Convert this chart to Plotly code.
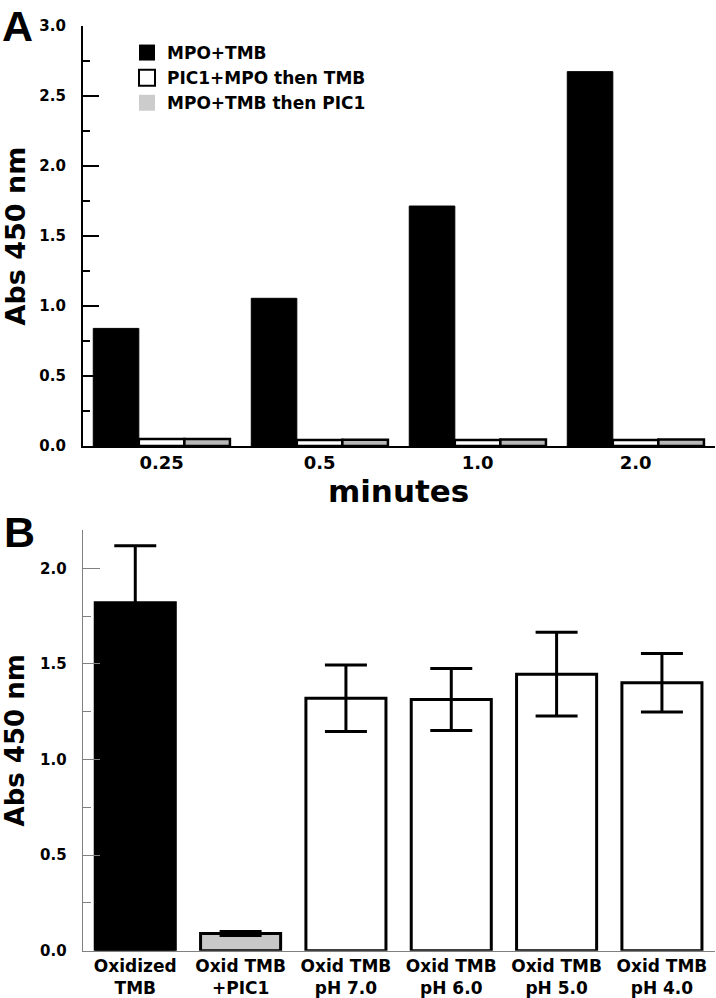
import plotly.graph_objects as go

# ---------------- data ----------------
# Panel A
minutes = ["0.25", "0.5", "1.0", "2.0"]
mpo_tmb = [0.84, 1.055, 1.714, 2.674]
pic1_mpo_then_tmb = [0.05, 0.042, 0.042, 0.042]
mpo_tmb_then_pic1 = [0.05, 0.045, 0.047, 0.047]
series_names = ["MPO+TMB", "PIC1+MPO then TMB", "MPO+TMB then PIC1"]

# Panel B
conditions = ["Oxidized<br>TMB", "Oxid TMB<br>+PIC1", "Oxid TMB<br>pH 7.0",
              "Oxid TMB<br>pH 6.0", "Oxid TMB<br>pH 5.0", "Oxid TMB<br>pH 4.0"]
abs_values = [1.82, 0.09, 1.32, 1.314, 1.446, 1.401]
abs_errors = [0.297, 0.01, 0.174, 0.162, 0.219, 0.153]
b_fill = ["black", "#c8c8c8", "white", "white", "white", "white"]

FONT = "DejaVu Sans"
BOLD = dict(family=FONT, color="black", weight="bold")

fig = go.Figure()

# ---------------- panel A bars ----------------
fig.add_trace(go.Bar(x=minutes, y=mpo_tmb, name=series_names[0],
                     marker=dict(color="black", line=dict(color="black", width=1)),
                     xaxis="x", yaxis="y", showlegend=False))
fig.add_trace(go.Bar(x=minutes, y=pic1_mpo_then_tmb, name=series_names[1],
                     marker=dict(color="white", line=dict(color="black", width=2.5)),
                     xaxis="x", yaxis="y", showlegend=False))
fig.add_trace(go.Bar(x=minutes, y=mpo_tmb_then_pic1, name=series_names[2],
                     marker=dict(color="#b8b8b8", line=dict(color="black", width=2.5)),
                     xaxis="x", yaxis="y", showlegend=False))

# legend entries
legend_styles = [
    dict(color="black", line=dict(color="black", width=0)),
    dict(color="white", line=dict(color="black", width=2)),
    dict(color="#cccccc", line=dict(color="#cccccc", width=0)),
]
for nm, st in zip(series_names, legend_styles):
    fig.add_trace(go.Scatter(x=[None], y=[None], mode="markers", name=nm,
                             marker=dict(symbol="square", size=16, **st),
                             xaxis="x", yaxis="y", showlegend=True))

# ---------------- panel B bars ----------------
fig.add_trace(go.Bar(x=conditions, y=abs_values, width=0.76,
                     marker=dict(color=b_fill, line=dict(color="black", width=3)),
                     error_y=dict(type="data", array=abs_errors, visible=True,
                                  color="black", thickness=3, width=21),
                     xaxis="x2", yaxis="y2", showlegend=False))

# ---------------- layout ----------------
H = 998.0
W = 716.0
xdom = [82.6 / W, 714.6 / W]

fig.update_layout(
    width=716, height=998,
    margin=dict(l=0, r=0, t=0, b=0),
    paper_bgcolor="white", plot_bgcolor="white",
    barmode="group", bargap=0.135, bargroupgap=0,
    font=dict(family=FONT, color="black"),
    legend=dict(x=127 / W, y=(H - 35) / H, xanchor="left", yanchor="top",
                font=dict(family=FONT, size=17, color="black", weight="bold"),
                bgcolor="rgba(0,0,0,0)", itemclick=False, tracegroupgap=0),
    xaxis=dict(domain=xdom, anchor="y", type="category", range=[-0.5, 3.5],
               showline=True, linecolor="black", linewidth=1.5, ticks="",
               showgrid=False, zeroline=False, automargin=False,
               tickfont=dict(size=18, **BOLD),
               title=dict(text="minutes", font=dict(size=31, **BOLD), standoff=0)),
    yaxis=dict(domain=[(H - 446) / H, (H - 26) / H], anchor="x", range=[0, 3],
               tick0=0, dtick=0.5, tickformat=".1f",
               ticks="inside", ticklen=17, tickwidth=1.5, tickcolor="black",
               minor=dict(ticks="inside", ticklen=8, tickwidth=1.5, tickcolor="black",
                          dtick=0.25, tick0=0, showgrid=False),
               showline=True, linecolor="black", linewidth=1.5,
               showgrid=False, zeroline=False, automargin=False,
               ticklabelstandoff=12,
               tickfont=dict(size=15, **BOLD),
               title=dict(text="Abs 450 nm", font=dict(size=27, **BOLD), standoff=14)),
    xaxis2=dict(domain=xdom, anchor="y2", type="category", range=[-0.5, 5.5],
                showline=True, linecolor="#808080", linewidth=1, ticks="",
                showgrid=False, zeroline=False, automargin=False,
                tickfont=dict(size=17, **BOLD)),
    yaxis2=dict(domain=[(H - 950.7) / H, (H - 530) / H], anchor="x2", range=[0, 2.2],
                tick0=0, dtick=0.5, tickformat=".1f",
                ticks="inside", ticklen=17, tickwidth=1, tickcolor="#808080",
                minor=dict(ticks="inside", ticklen=8, tickwidth=1, tickcolor="#808080",
                           dtick=0.25, tick0=0, showgrid=False),
                showline=True, linecolor="#808080", linewidth=1,
                showgrid=False, zeroline=False, automargin=False,
                ticklabelstandoff=12,
                tickfont=dict(size=15, **BOLD),
                title=dict(text="Abs 450 nm", font=dict(size=26, **BOLD), standoff=14)),
    annotations=[
        dict(text="A", x=0, y=1, xref="paper", yref="paper",
             xanchor="left", yanchor="top", showarrow=False,
             font=dict(family="Liberation Sans", size=43, color="black", weight="bold")),
        dict(text="B", x=2 / W, y=(H - 506) / H, xref="paper", yref="paper",
             xanchor="left", yanchor="top", showarrow=False,
             font=dict(family="Liberation Sans", size=43, color="black", weight="bold")),
    ],
)

fig.write_html("out.html", config={"displayModeBar": False},
               post_script="document.body.style.margin='0px';document.body.style.padding='0px';")
